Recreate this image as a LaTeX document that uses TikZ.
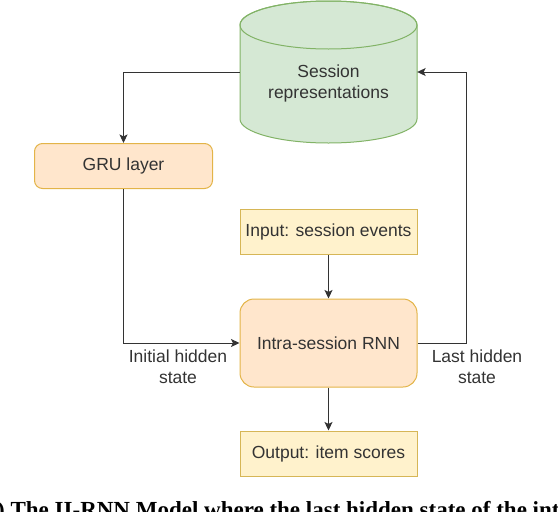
\documentclass[tikz,border=0pt]{standalone}
\usepackage{fontspec}
\setmainfont{Liberation Sans}
\newfontfamily\capfont{Liberation Serif}
\usetikzlibrary{arrows.meta}
\definecolor{txtgray}{HTML}{333333}
\definecolor{sessfill}{HTML}{D5E8D4}
\definecolor{sessline}{HTML}{82B366}
\definecolor{opfill}{HTML}{FFE6CC}
\definecolor{opline}{HTML}{E3B448}
\definecolor{iofill}{HTML}{FFF2CC}
\definecolor{ioline}{HTML}{D6B656}
\tikzset{
  boxtext/.style={font=\fontsize{17.5}{21}\selectfont, text=txtgray, align=center, inner sep=0pt},
  opbox/.style={boxtext, draw=opline, fill=opfill, line width=1pt, rounded corners=8pt,
    minimum width=178pt, minimum height=45pt},
  iobox/.style={boxtext, draw=ioline, fill=iofill, line width=1pt,
    minimum width=177pt, minimum height=45pt},
  arr/.style={-{Stealth[length=8.5pt,width=8pt,inset=2pt]}, line width=0.9pt, draw=txtgray},
  lbl/.style={boxtext}
}
\begin{document}
\begin{tikzpicture}[x=1pt, y=1pt]
	\useasboundingbox (0,0) rectangle (558,-512);
	%\draw[dotted] (0,0) grid[step=50] (558,-512);
	% session store
	\draw[draw=sessline, fill=sessfill, line width=1pt]
		(240,-25) -- (240,-119) arc[start angle=180, end angle=360, x radius=88.5pt, y radius=24pt]
		-- (417,-25) arc[start angle=0, end angle=180, x radius=88.5pt, y radius=24pt] -- cycle;
	\draw[draw=sessline, line width=1pt] (328.5,-25) ellipse[x radius=88.5pt, y radius=24pt];
	\node[boxtext, minimum width=177pt, minimum height=100pt] (sess) at (328.5,-83)
		{Session\\representations};
	% boxes
	\node[opbox] (gru) at (123.5,-166) {GRU layer};
	\node[iobox] (inp) at (328.5,-232) {Input: session events};
	\node[opbox, minimum width=177pt, minimum height=88pt, rounded corners=14pt] (rnn) at (328.5,-343)
		{Intra-session RNN};
	\node[iobox] (out) at (328.5,-453.5) {Output: item scores};
	% connectors
	\draw[arr] ([yshift=11pt]sess.west) -| (gru.north);
	\draw[arr] (gru.south) |- (rnn.west);
	\draw[arr] (inp) -- (rnn);
	\draw[arr] (rnn) -- (out);
	\draw[arr] (rnn.east) -- ++(49,0) |- ([yshift=11pt]sess.east);
	\node[lbl] (initlbl) at (178,-366.5) {Initial hidden\\state};
	\node[lbl] (lastlbl) at (477,-366.5) {Last hidden\\state};
	% caption, cut by the page edge
	\node[anchor=base west, inner sep=0pt, font=\capfont\bfseries\fontsize{23}{27}\selectfont] (caption)
		at (-3,-517) {) The II-RNN Model where the last hidden state of the intra};
\end{tikzpicture}
\end{document}
